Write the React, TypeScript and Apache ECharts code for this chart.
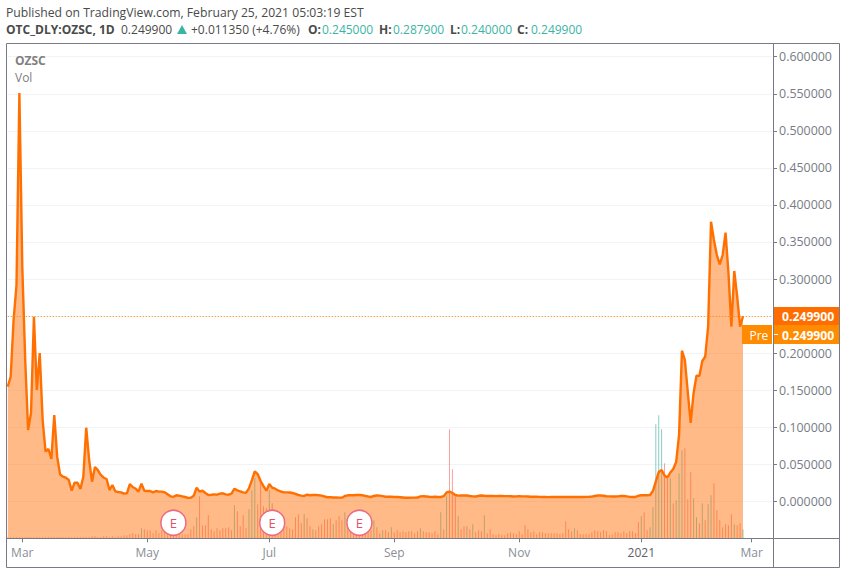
import React, { useEffect, useRef } from "react";
import * as echarts from "echarts";

const prices = [
  0.1547, 0.1681, 0.2447, 0.2919, 0.551, 0.3162, 0.1907, 0.0962, 0.1192, 0.2491,
  0.1502, 0.2001, 0.1097, 0.0669, 0.0706, 0.0571, 0.1165, 0.0602, 0.0364, 0.0332,
  0.0318, 0.0287, 0.0143, 0.0251, 0.0251, 0.0166, 0.0332, 0.0993, 0.0557, 0.0265,
  0.0463, 0.0422, 0.0355, 0.0318, 0.0301, 0.0152, 0.022, 0.0135, 0.0126, 0.0121,
  0.0103, 0.0108, 0.0233, 0.0193, 0.017, 0.013, 0.0238, 0.0143, 0.0139, 0.0139,
  0.0121, 0.0139, 0.013, 0.013, 0.0121, 0.0094, 0.0067, 0.0062, 0.0081, 0.0076,
  0.0067, 0.0058, 0.0045, 0.0049, 0.0076, 0.0184, 0.013, 0.0143, 0.0112, 0.0085,
  0.0089, 0.0094, 0.0089, 0.0103, 0.0108, 0.0094, 0.0089, 0.0103, 0.017, 0.0148,
  0.0135, 0.0121, 0.0116, 0.0175, 0.0287, 0.0405, 0.0368, 0.0274, 0.0206, 0.0143,
  0.0233, 0.0184, 0.017, 0.0146, 0.0132, 0.0121, 0.0121, 0.0119, 0.0112, 0.0099,
  0.0085, 0.0076, 0.0072, 0.0089, 0.0081, 0.0085, 0.0085, 0.0081, 0.0076, 0.0065,
  0.0055, 0.0054, 0.0051, 0.0051, 0.0049, 0.0049, 0.0072, 0.0081, 0.0081, 0.0082,
  0.0085, 0.0085, 0.0081, 0.0074, 0.0065, 0.0058, 0.0072, 0.0078, 0.0076, 0.0069,
  0.0062, 0.0061, 0.0061, 0.0058, 0.0058, 0.0055, 0.0051, 0.0047, 0.0047, 0.0049,
  0.0049, 0.0051, 0.0067, 0.0069, 0.0065, 0.0061, 0.0058, 0.0061, 0.0058, 0.0058,
  0.0069, 0.0119, 0.0132, 0.0112, 0.0085, 0.0076, 0.0078, 0.0078, 0.0078, 0.0072,
  0.0067, 0.0065, 0.0074, 0.0078, 0.0074, 0.0072, 0.0072, 0.0072, 0.007, 0.0072,
  0.0072, 0.007, 0.007, 0.0068, 0.0065, 0.0067, 0.007, 0.0067, 0.0067, 0.0065,
  0.0062, 0.0062, 0.0061, 0.006, 0.0058, 0.0058, 0.0057, 0.0058, 0.0058, 0.0058,
  0.0058, 0.0058, 0.0058, 0.0058, 0.0058, 0.0058, 0.0058, 0.0059, 0.0059, 0.006,
  0.0061, 0.0063, 0.0072, 0.0078, 0.0078, 0.0075, 0.0068, 0.0066, 0.0065, 0.0064,
  0.0066, 0.0072, 0.0072, 0.0066, 0.006, 0.0058, 0.0059, 0.0075, 0.0081, 0.0081,
  0.0081, 0.0085, 0.0139, 0.0265, 0.0395, 0.0422, 0.0348, 0.0321, 0.0389, 0.0436,
  0.053, 0.0895, 0.2032, 0.1907, 0.1475, 0.1057, 0.1462, 0.1695, 0.1695, 0.1893,
  0.1951, 0.2356, 0.3773, 0.3526, 0.3324, 0.3198, 0.3324, 0.3625, 0.3081, 0.2356,
  0.3108, 0.2761, 0.2356, 0.2499,
];

const volumes = [
  1, 1, 1, 1, 1, 1, 1, 1, 1, 1,
  1, 1, 1, 1, 1, 1, 1, 1, 1, 1,
  1, 1, 1, 1, 1, 1, 1, 1, 1, 2,
  2, 1, 1, 2, 2, 1, 2, 1, 2, 2,
  3, 3, 4, 5, 4, 4, 10, 9, 8, 8,
  5, 8, 5, 8, 6, 6, 5, 5, 5, 5,
  4, 4, 4, 9, 12, 21, 42, 13, 13, 23,
  9, 7, 10, 8, 10, 10, 11, 8, 33, 27,
  12, 23, 10, 29, 48, 60, 34, 58, 32, 30,
  48, 35, 15, 20, 12, 20, 12, 10, 9, 21,
  24, 15, 24, 20, 12, 9, 8, 12, 14, 19,
  19, 20, 14, 18, 22, 18, 26, 10, 15, 12,
  12, 10, 10, 12, 10, 8, 18, 11, 5, 8,
  8, 6, 11, 6, 8, 6, 7, 6, 7, 7,
  5, 7, 10, 7, 6, 6, 5, 7, 4, 26,
  9, 42, 109, 69, 42, 22, 9, 12, 12, 9,
  14, 6, 8, 7, 23, 5, 9, 4, 3, 4,
  3, 3, 5, 6, 5, 4, 7, 4, 13, 9,
  6, 7, 4, 6, 6, 5, 5, 5, 5, 5,
  4, 5, 17, 9, 7, 10, 8, 4, 4, 4,
  4, 6, 8, 7, 6, 8, 7, 3, 4, 6,
  6, 5, 7, 5, 7, 7, 5, 16, 22, 26,
  8, 11, 31, 114, 123, 109, 75, 60, 60, 35,
  38, 65, 88, 90, 39, 66, 40, 21, 15, 35,
  18, 34, 43, 55, 28, 18, 11, 14, 13, 24,
  14, 13, 15, 9,
];

const upVolumeDays = [
  46, 65, 78, 83, 84, 85, 90, 102, 105, 112, 116, 126, 129, 132, 142, 149, 151,
  155, 158, 160, 164, 195, 218, 221, 222, 223, 224, 225, 228, 230, 231, 232, 236,
  237, 239, 241, 242, 250, 253,
];
const earningsDays = [57, 91, 121];
const tickDays = [5, 48, 90, 133, 176, 218, 256];
const tickNames = ["Mar", "May", "Jul", "Sep", "Nov", "2021", "Mar"];
const slotCount = 264;
const lastPrice = 0.2499;

const GRAY = "#787b86";
const FONT = "'Open Sans', sans-serif";
const TEAL = "#3cb4a4";
const TEXT = "#4a4a4a";

export default function App() {
  const ref = useRef<HTMLDivElement>(null);
  useEffect(() => {
    document.body.style.margin = "0";
    const chart = echarts.init(ref.current!, undefined, { renderer: "svg" });
    const categories = Array.from({ length: slotCount }, (_, i) => String(i));
    const label = (x: number, y: number, text: string, fill: string, bold = false, size = 12) => ({
      type: "text",
      x,
      y,
      silent: true,
      z: 50,
      style: { text, fill, font: `${bold ? "bold " : ""}${size}px ${FONT}`, textVerticalAlign: "middle" },
    });
    chart.setOption({
      animation: false,
      backgroundColor: "#ffffff",
      grid: { left: 7.77, top: 43, width: 764.28, height: 495.35, containLabel: false },
      xAxis: {
        type: "category",
        boundaryGap: false,
        data: categories,
        position: "bottom",
        axisLine: { show: false, onZero: false },
        axisTick: {
          length: 4,
          lineStyle: { color: GRAY },
          interval: (i: number) => tickDays.includes(i),
        },
        axisLabel: {
          interval: (i: number) => tickDays.includes(i),
          formatter: (_: string, i: number) => {
            const n = tickNames[tickDays.indexOf(i)];
            return n === "2021" ? "{y|2021}" : n;
          },
          color: "#8a8d96",
          fontFamily: FONT,
          fontSize: 12,
          margin: 8,
          rich: { y: { color: "#5e606a", fontFamily: FONT, fontSize: 12 } },
        },
        splitLine: { show: false },
      },
      yAxis: [
        {
          type: "value",
          position: "right",
          offset: 1,
          min: -0.05,
          max: 0.6185,
          interval: 0.05,
          axisLine: { show: false },
          axisTick: { show: true, length: 4, lineStyle: { color: GRAY } },
          axisLabel: {
            showMinLabel: false,
            showMaxLabel: false,
            formatter: (v: number) => (Math.abs(v - 0.25) < 1e-6 ? "" : v.toFixed(6)),
            color: "#787b86",
            fontFamily: FONT,
            fontSize: 12.4,
            margin: 6,
          },
          splitLine: { show: true, lineStyle: { color: "#f1f3f6", width: 1 } },
        },
        { type: "value", min: 0, max: 495.35, show: false },
      ],
      series: [
        {
          type: "bar",
          yAxisIndex: 1,
          barWidth: 1,
          silent: true,
          z: 1,
          data: volumes.map((v, i) => ({
            value: v,
            itemStyle: {
              color: upVolumeDays.includes(i) ? "rgba(38,166,154,0.55)" : "rgba(239,83,80,0.55)",
            },
          })),
        },
        {
          type: "line",
          data: prices,
          symbol: "none",
          silent: true,
          z: 2,
          lineStyle: { color: "#ff7000", width: 2.4 },
          areaStyle: { color: "#ff6d00", opacity: 0.47, origin: "start" },
          markLine: {
            silent: true,
            symbol: "none",
            label: { show: false },
            lineStyle: { color: "#ff8c00", type: [1, 2], width: 1 },
            data: [{ yAxis: lastPrice }],
          },
        },
        {
          type: "scatter",
          yAxisIndex: 1,
          silent: true,
          z: 3,
          symbol: "circle",
          symbolSize: 25,
          itemStyle: { color: "#ffffff", opacity: 1, borderColor: "#ee6a82", borderWidth: 1.5 },
          label: {
            show: true,
            position: "inside",
            formatter: "E",
            color: "#e2516b",
            fontFamily: FONT,
            fontSize: 13,
          },
          data: earningsDays.map((d) => [d, 15.6]),
        },
      ],
      graphic: [
        {
          type: "rect",
          silent: true,
          z: 40,
          shape: { x: 6.5, y: 43.5, width: 833, height: 524 },
          style: { fill: "none", stroke: GRAY, lineWidth: 1 },
        },
        {
          type: "line",
          silent: true,
          z: 40,
          shape: { x1: 773.5, y1: 43.5, x2: 773.5, y2: 567.5 },
          style: { stroke: GRAY, lineWidth: 1 },
        },
        {
          type: "line",
          silent: true,
          z: 40,
          shape: { x1: 6.5, y1: 538.5, x2: 839.5, y2: 538.5 },
          style: { stroke: GRAY, lineWidth: 1 },
        },
        { type: "rect", silent: true, z: 41, shape: { x: 774, y: 307, width: 65, height: 18 }, style: { fill: "#ff6d00" } },
        { type: "rect", silent: true, z: 41, shape: { x: 774, y: 325, width: 65, height: 19 }, style: { fill: "#ff8c00" } },
        { type: "rect", silent: true, z: 41, shape: { x: 742, y: 325, width: 30, height: 19 }, style: { fill: "#ff8c00" } },
        { type: "line", silent: true, z: 42, shape: { x1: 774, y1: 334.5, x2: 778, y2: 334.5 }, style: { stroke: "#ffffff", lineWidth: 1 } },
        label(782, 316.5, "0.249900", "#ffffff", true, 12.2),
        label(782, 335, "0.249900", "#ffffff", true, 12.2),
        label(749.5, 335, "Pre", "#ffffff", false),
        label(6, 12.5, "Published on TradingView.com, February 25, 2021 05:03:19 EST", TEXT, false, 12.2),
        label(6, 29.5, "OTC_DLY:OZSC, 1D", TEXT, true),
        label(121, 29.5, "0.249900", TEXT),
        {
          type: "polygon",
          silent: true,
          z: 50,
          shape: { points: [[177, 34], [187, 34], [182, 25]] },
          style: { fill: TEAL },
        },
        label(191, 29.5, "+0.011350 (+4.76%)", TEXT),
        label(308, 29.5, "O:", TEXT, true),
        label(322, 29.5, "0.245000", TEAL),
        label(379, 29.5, "H:", TEXT, true),
        label(393, 29.5, "0.287900", TEAL),
        label(450, 29.5, "L:", TEXT, true),
        label(461, 29.5, "0.240000", TEAL),
        label(517, 29.5, "C:", TEXT, true),
        label(531, 29.5, "0.249900", TEAL),
        label(15, 60.5, "OZSC", "#808080", true),
        label(15, 77.5, "Vol", "#808080"),
      ],
    });
    return () => chart.dispose();
  }, []);
  return <div ref={ref} style={{ width: 846, height: 574 }} />;
}
